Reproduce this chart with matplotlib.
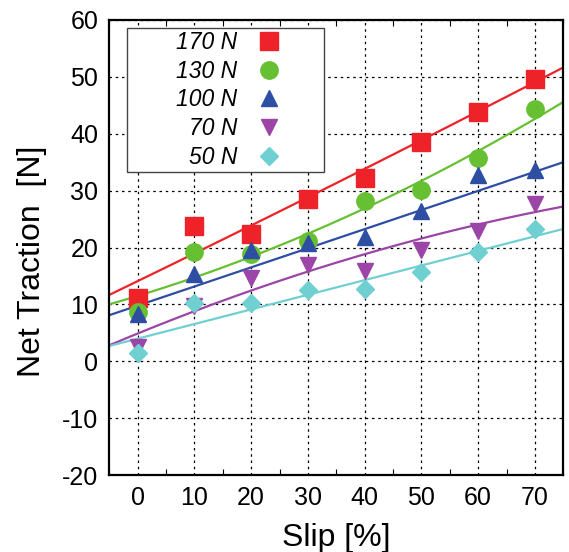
import numpy as np
import matplotlib
matplotlib.use("Agg")
import matplotlib.pyplot as plt
from matplotlib.ticker import MultipleLocator
from matplotlib.patches import Rectangle

plt.rcParams['font.family'] = ['Liberation Sans', 'DejaVu Sans']
plt.rcParams['axes.unicode_minus'] = False

slip = [0, 10, 20, 30, 40, 50, 60, 70]
labels = ['170 N', '130 N', '100 N', '70 N', '50 N']
colors = ['#ee2229', '#66c032', '#2e4ea4', '#9b45a7', '#70cfd0']
markers = ['s', 'o', '^', 'v', 'D']
msizes = [13.5, 12.5, 12, 12, 9.5]

t170 = [11.1, 23.8, 22.4, 28.5, 32.2, 38.5, 43.8, 49.6]
t130 = [8.7, 19.2, 18.8, 21.2, 28.2, 30.2, 35.7, 44.3]
t100 = [8.3, 15.4, 19.6, 20.8, 21.9, 26.4, 32.7, 33.6]
t70 = [2.5, 9.7, 14.6, 17.0, 15.8, 19.6, 22.9, 27.6]
t50 = [1.5, 10.3, 10.2, 12.5, 12.8, 15.7, 19.3, 23.3]
series = [t170, t130, t100, t70, t50]

# fitted trend curves: c0 + c1*s + c2*s^2
fit170 = [14.1, 0.4845, 0.000214]
fit130 = [11.5, 0.3044, 0.0020]
fit100 = [9.8, 0.336, 0.0]
fit70 = [4.9, 0.4066, -0.001455]
fit50 = [4.0, 0.257, 0.0]
fits = [fit170, fit130, fit100, fit70, fit50]

W, H = 569, 552
fig = plt.figure(figsize=(W / 100, H / 100), dpi=100)
ax = fig.add_axes([0.192, 0.139, 0.798, 0.825])

xs = np.linspace(-5, 75, 200)
for fit, col in zip(fits, colors):
    ax.plot(xs, fit[0] + fit[1] * xs + fit[2] * xs ** 2, color=col, lw=1.6, zorder=2)

for vals, lab, col, mk, ms in zip(series, labels, colors, markers, msizes):
    ax.plot(slip, vals, linestyle='none', marker=mk, ms=ms, color=col,
            markeredgecolor=col, label=lab, zorder=3)

ax.set_xlim(-5, 75)
ax.set_ylim(-20, 60)
ax.set_xticks(slip)
ax.set_yticks(np.arange(-20, 61, 10))
ax.xaxis.set_minor_locator(MultipleLocator(5))
ax.tick_params(axis='both', which='major', length=0, labelsize=18, pad=8)
ax.tick_params(axis='x', which='minor', direction='in', length=4, top=True, bottom=True, width=0.8)
ax.grid(True, which='major', color='black', linestyle=(0, (2, 3)), linewidth=0.9)
for sp in ax.spines.values():
    sp.set_linewidth(1.6)

ax.set_xlabel('Slip [%]', fontsize=23, labelpad=9)
ax.set_ylabel('Net Traction  [N]', fontsize=23)
ax.yaxis.set_label_coords(-0.137, 0.4706)

# legend frame (drawn separately to reproduce the wide padded box)
fig.patches.append(Rectangle((127 / W, 1 - 172 / H), 197 / W, 144 / H,
                             transform=fig.transFigure, facecolor='white',
                             edgecolor='#444444', linewidth=1.0, zorder=4))
leg = fig.legend(loc='center right', bbox_to_anchor=(280 / W, 1 - 100 / H),
                 markerfirst=False, prop={'size': 16.5, 'style': 'italic'},
                 frameon=False, handletextpad=0.85, borderpad=0,
                 labelspacing=0.25, borderaxespad=0, handlelength=1.0)
leg.set_zorder(5)
for t in leg.get_texts():
    t.set_ha('right')

fig.savefig('out.png', dpi=100)
